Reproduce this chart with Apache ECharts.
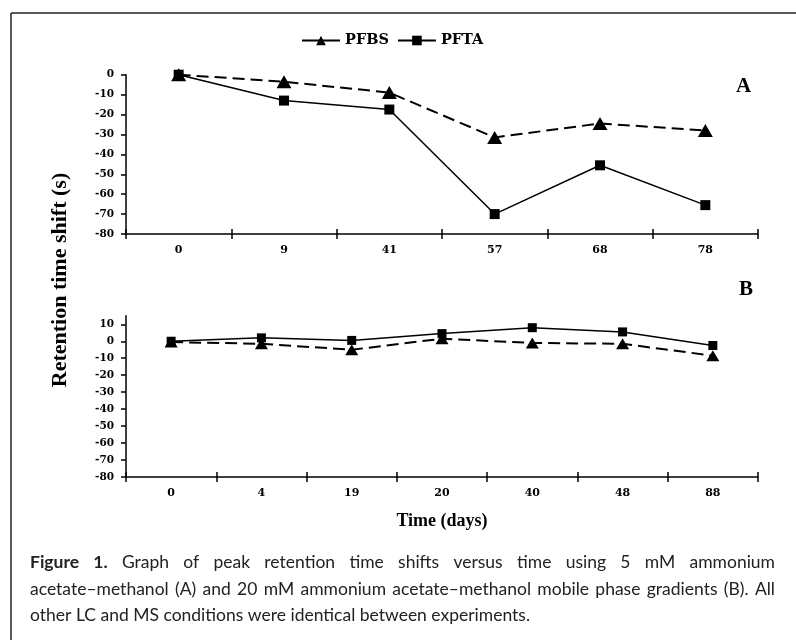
<!DOCTYPE html>
<html>
<head>
<meta charset="utf-8">
<script src="https://cdn.jsdelivr.net/npm/echarts@6/dist/echarts.min.js"></script>
<style>
html,body{margin:0;padding:0;background:#fff;}
#chart{width:796px;height:640px;}
</style>
</head>
<body>
<div id="chart"></div>
<script>
// ---- data ----
const catsA = ['0', '9', '41', '57', '68', '78'];
const pfbsA = [0, -3.5, -9, -31.5, -24.5, -28];
const pftaA = [0, -13, -17.5, -70, -45.5, -65.5];

const catsB = ['0', '4', '19', '20', '40', '48', '88'];
const pfbsB = [-0.5, -1.5, -5, 1.5, -1, -1.5, -8.5];
const pftaB = [0, 2, 0.5, 4.5, 8, 5.5, -2.5];

const yTicksA = [-80, -70, -60, -50, -40, -30, -20, -10, 0];
const yTicksB = [-80, -70, -60, -50, -40, -30, -20, -10, 0, 10];

const captionLines = [
  'Figure 1. Graph of peak retention time shifts versus time using 5 mM ammonium',
  'acetate–methanol (A) and 20 mM ammonium acetate–methanol mobile phase gradients (B). All',
  'other LC and MS conditions were identical between experiments.'
];

// ---- styles ----
const SERIF = '"Liberation Serif","Times New Roman",serif';
const WSERIF = '"DejaVu Serif",serif';
const SANS = 'Lato, "Open Sans", sans-serif';
const INK = '#000';

function yAxisCfg(grid, min, max, ticks) {
  return {
    type: 'value', gridIndex: grid, min: min, max: max,
    axisLine: {show: true, lineStyle: {color: INK, width: 1.5}},
    axisTick: {show: true, length: 5, lineStyle: {color: INK, width: 1.5}, customValues: ticks},
    axisLabel: {color: INK, fontFamily: WSERIF, fontWeight: 'bold', fontSize: 10.5, margin: 12, customValues: ticks},
    splitLine: {show: false}
  };
}
function xAxisCfg(grid, cats, inner) {
  return {
    type: 'category', gridIndex: grid, data: cats, position: 'bottom', boundaryGap: true,
    axisLine: {show: !inner, onZero: false, lineStyle: {color: INK, width: 1.5}},
    axisTick: {show: true, inside: inner, length: 5, interval: 0, lineStyle: {color: INK, width: 1.5}},
    axisLabel: {show: !inner, color: INK, fontFamily: WSERIF, fontWeight: 'bold', fontSize: 11, margin: 11, interval: 0},
    splitLine: {show: false}
  };
}
function pfbs(data, xi, yi, size) {
  return {
    name: 'PFBS', type: 'line', data: data, xAxisIndex: xi, yAxisIndex: yi,
    symbol: 'triangle', symbolSize: size, showAllSymbol: true,
    itemStyle: {color: INK}, lineStyle: {color: INK, width: 2, type: [12, 6]},
    animation: false, z: 3
  };
}
function pfta(data, xi, yi, size) {
  return {
    name: 'PFTA', type: 'line', data: data, xAxisIndex: xi, yAxisIndex: yi,
    symbol: 'rect', symbolSize: size, showAllSymbol: true,
    itemStyle: {color: INK}, lineStyle: {color: INK, width: 1.5, type: 'solid'},
    animation: false, z: 4
  };
}

// ---- caption layout (justified) ----
const measureCtx = document.createElement('canvas').getContext('2d');
function textW(t, size, bold) {
  measureCtx.font = (bold ? 'bold ' : '') + size + 'px ' + SANS;
  return measureCtx.measureText(t).width;
}
const capX0 = 30, capX1 = 775;
const capYs = [564, 591, 617];
let capSize = 17;
(function () {
  const w = textW(captionLines[1], 100, false);
  const fit = 100 * (capX1 - capX0 - 6) / w;
  capSize = Math.min(17.5, fit);
})();
const captionGraphics = [];
captionLines.forEach(function (line, li) {
  const words = line.split(' ');
  const bolds = words.map(function (w, i) { return li === 0 && i < 2; });
  const widths = words.map(function (w, i) { return textW(w, capSize, bolds[i]); });
  const total = widths.reduce(function (a, b) { return a + b; }, 0);
  const justify = li < captionLines.length - 1;
  const gap = justify ? (capX1 - capX0 - total) / (words.length - 1) : textW(' ', capSize, false);
  let x = capX0;
  words.forEach(function (w, i) {
    captionGraphics.push({
      type: 'text', left: x, top: capYs[li] - capSize * 0.6,
      style: {text: w, fill: '#222', font: (bolds[i] ? 'bold ' : '') + capSize.toFixed(2) + 'px ' + SANS}
    });
    x += widths[i] + gap;
  });
});

const chart = echarts.init(document.getElementById('chart'), null, {renderer: 'canvas'});
chart.setOption({
  animation: false,
  backgroundColor: '#fff',
  legend: {
    data: ['PFBS', 'PFTA'], left: 296, top: 28, itemWidth: 38, itemHeight: 12, itemGap: 8,
    textStyle: {color: INK, fontFamily: WSERIF, fontWeight: 'bold', fontSize: 14.5},
    lineStyle: {type: 'solid', width: 2}
  },
  grid: [
    {left: 126, right: 38, top: 74.7, height: 159.3, containLabel: false},
    {left: 126, right: 38, top: 315.8, height: 161.2, containLabel: false}
  ],
  xAxis: [xAxisCfg(0, catsA, false), xAxisCfg(0, catsA, true), xAxisCfg(1, catsB, false), xAxisCfg(1, catsB, true)],
  yAxis: [yAxisCfg(0, -80, 0, yTicksA), yAxisCfg(1, -80, 15, yTicksB)],
  series: [
    pfbs(pfbsA, 0, 0, [15, 13]), pfta(pftaA, 0, 0, 10),
    pfbs(pfbsB, 2, 1, [13, 11]), pfta(pftaB, 2, 1, 9)
  ],
  graphic: [
    {type: 'line', shape: {x1: 11, y1: 13, x2: 796, y2: 13}, style: {stroke: '#222', lineWidth: 1.5}},
    {type: 'line', shape: {x1: 11, y1: 13, x2: 11, y2: 640}, style: {stroke: '#222', lineWidth: 1.5}},
    {type: 'text', left: 736, top: 76, style: {text: 'A', fill: INK, font: 'bold 21px ' + SERIF}},
    {type: 'text', left: 739, top: 279, style: {text: 'B', fill: INK, font: 'bold 21px ' + SERIF}},
    {type: 'text', x: 60, y: 280, rotation: Math.PI / 2,
      style: {text: 'Retention time shift (s)', fill: INK, font: 'bold 22px ' + SERIF, align: 'center', verticalAlign: 'middle'}},
    {type: 'text', x: 442, y: 521,
      style: {text: 'Time (days)', fill: INK, font: 'bold 18px ' + SERIF, align: 'center', verticalAlign: 'middle'}}
  ].concat(captionGraphics)
});
</script>
</body>
</html>
